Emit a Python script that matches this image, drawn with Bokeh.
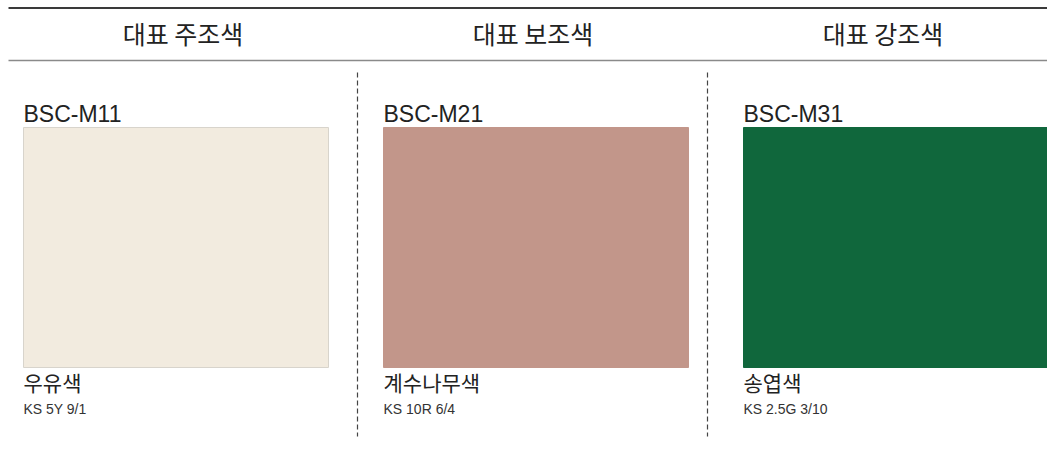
from bokeh.plotting import figure
from bokeh.models import Range1d, ColumnDataSource
from bokeh.core.properties import value
from bokeh.embed import file_html
from bokeh.resources import INLINE

# ---- data ----
headers = ["대표 주조색", "대표 보조색", "대표 강조색"]
codes = ["BSC-M11", "BSC-M21", "BSC-M31"]
names = ["우유색", "계수나무색", "송엽색"]
ks_codes = ["KS 5Y 9/1", "KS 10R 6/4", "KS 2.5G 3/10"]
colors = ["#F2EBDF", "#C2968A", "#10673C"]
borders = ["#D8D4CC", "#C2968A", "#10673C"]

# ---- layout (page pixel coordinates) ----
W, H = 1047, 455
col_w = 350
sw_step = 360
sw_left0, sw_w = 23, 305
sw_top, sw_bot = 127, 367

n = len(headers)
idx = list(range(n))

p = figure(width=W, height=H, output_backend="svg", toolbar_location=None,
           x_range=Range1d(0, W), y_range=Range1d(H, 0),
           x_axis_type=None, y_axis_type=None, min_border=0,
           outline_line_color=None, background_fill_color="white",
           border_fill_color="white")
p.xgrid.visible = False
p.ygrid.visible = False

# header rules
p.segment(x0=[8], y0=[7.5], x1=[W], y1=[7.5], line_color="#3a3a3a", line_width=2)
p.segment(x0=[8], y0=[60], x1=[W], y1=[60], line_color="#8a8a8a", line_width=1.5)

# dashed separators
sep_x = [8 + col_w * (k + 1) - 1 for k in range(n - 1)]
p.segment(x0=sep_x, y0=[72] * len(sep_x), x1=sep_x, y1=[436] * len(sep_x),
          line_color="#444444", line_width=1.2, line_dash="5 3")

# headers
hsrc = ColumnDataSource(dict(x=[8 + col_w * k + col_w / 2 - 0.5 for k in idx],
                             y=[32] * n, t=headers))
p.text(x="x", y="y", text="t", source=hsrc, text_align="center",
       text_baseline="middle", text_font=value("Noto Sans CJK KR"),
       text_font_size="25px", text_color="#222222")

# swatches
lefts = [sw_left0 + sw_step * k for k in idx]
ssrc = ColumnDataSource(dict(left=lefts, right=[l + sw_w for l in lefts],
                             top=[sw_top] * n, bottom=[sw_bot] * n,
                             fill=colors, line=borders))
p.quad(left="left", right="right", top="top", bottom="bottom", source=ssrc,
       fill_color="fill", line_color="line", line_width=1)

# code labels
csrc = ColumnDataSource(dict(x=lefts, y=[113] * n, t=codes))
p.text(x="x", y="y", text="t", source=csrc, text_align="left",
       text_baseline="middle", text_font=value("Liberation Sans"),
       text_font_size="23px", text_color="#222222")

# names
nsrc = ColumnDataSource(dict(x=lefts, y=[381] * n, t=names))
p.text(x="x", y="y", text="t", source=nsrc, text_align="left",
       text_baseline="middle", text_font=value("Noto Sans CJK KR"),
       text_font_size="21px", text_color="#222222")

# KS codes
ksrc = ColumnDataSource(dict(x=lefts, y=[408] * n, t=ks_codes))
p.text(x="x", y="y", text="t", source=ksrc, text_align="left",
       text_baseline="middle", text_font=value("Liberation Sans"),
       text_font_size="14px", text_color="#333333")

open("out.html", "w").write(file_html(p, INLINE))
